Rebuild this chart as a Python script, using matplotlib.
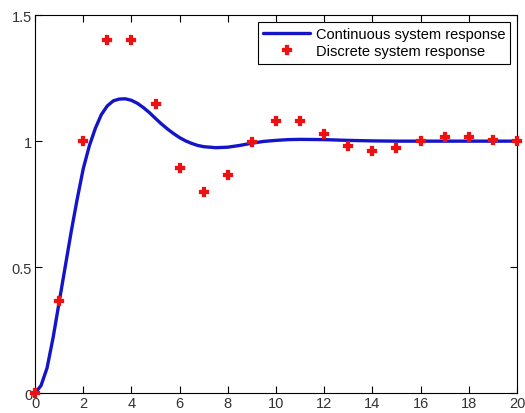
import numpy as np
import matplotlib.pyplot as plt

plt.rcParams['font.family'] = ['Liberation Sans', 'DejaVu Sans']

# continuous response, values
t_cont = [0, 0.25, 0.5, 0.75, 1.0, 1.25, 1.5, 1.75, 2.0, 2.25, 2.5, 2.75, 3.0,
          3.25, 3.5, 3.75, 4.0, 4.25, 4.5, 4.75, 5.0, 5.25, 5.5, 5.75, 6.0, 6.25,
          6.5, 6.75, 7.0, 7.5, 8.0, 8.5, 9.0, 9.5, 10, 10.5, 11, 12, 13, 14, 15,
          16, 17, 18, 19, 20]
y_cont = [0, 0.03, 0.10, 0.22, 0.36, 0.50, 0.64, 0.77, 0.89, 0.98, 1.05, 1.105, 1.14,
          1.16, 1.167, 1.168, 1.162, 1.15, 1.133, 1.113, 1.09, 1.068, 1.048, 1.03, 1.014, 1.001,
          0.991, 0.983, 0.978, 0.974, 0.976, 0.983, 0.992, 0.999, 1.003, 1.006, 1.007, 1.006, 1.003, 1.001, 1.0,
          1.0, 1.0, 1.0, 1.0, 1.0]

# discrete response samples
k_disc = list(range(21))
y_disc = [0, 0.365, 1.0, 1.403, 1.403, 1.148, 0.893, 0.80, 0.866, 0.996, 1.08,
          1.08, 1.03, 0.98, 0.962, 0.972, 1.0, 1.016, 1.016, 1.006, 1.0]

fig = plt.figure(figsize=(5.25, 4.14), dpi=100)
ax = fig.add_axes([0.0667, 0.048, 0.918, 0.913])

ax.plot(t_cont, y_cont, color='#1414c8', linewidth=2.4,
        label='Continuous system response', zorder=2,
        solid_joinstyle='round', solid_capstyle='round')
ax.plot(k_disc, y_disc, linestyle='none', marker='P', markersize=5.5,
        markeredgewidth=1.6, markeredgecolor='#ee1111',
        color='#ee1111', label='Discrete system response', zorder=3, clip_on=False)

ax.set_xlim(0, 20)
ax.set_ylim(0, 1.5)
ax.set_xticks(np.arange(0, 21, 2))
ax.set_yticks([0, 0.5, 1, 1.5])
ax.set_yticklabels(['0', '0.5', '1', '1.5'])
ax.tick_params(direction='in', top=True, right=True, length=5,
               labelsize=10.5, labelcolor='#333333', pad=2)
for s in ax.spines.values():
    s.set_linewidth(0.8)

leg = ax.legend(loc='upper right', fontsize=10.5, fancybox=False, framealpha=1,
                edgecolor='black', borderpad=0.35, handlelength=3.2, numpoints=1,
                handletextpad=0.4, labelspacing=0.25, borderaxespad=0.45)
leg.get_frame().set_linewidth(0.8)

fig.savefig('out.png', dpi=100)
